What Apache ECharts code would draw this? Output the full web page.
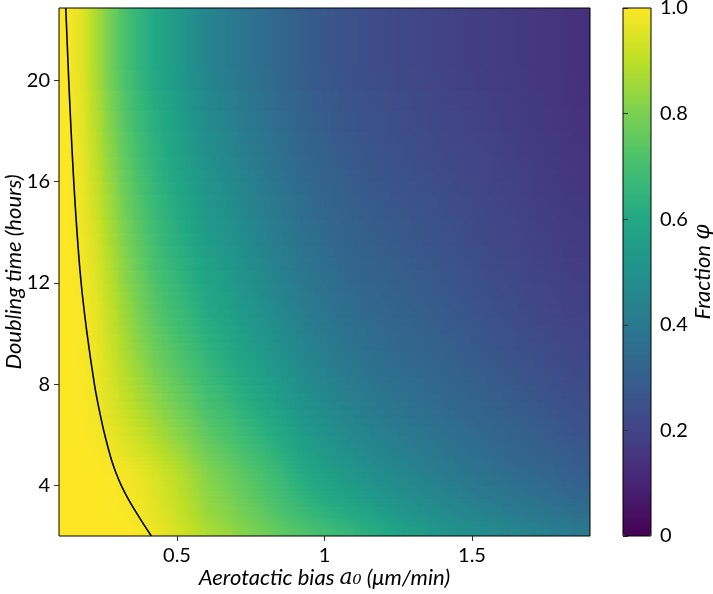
<!DOCTYPE html>
<html>
<head>
<meta charset="utf-8">
<script src="https://cdn.jsdelivr.net/npm/echarts@6/dist/echarts.min.js"></script>
<style>
  html, body { margin: 0; padding: 0; background: #fff; }
  #chart { width: 713px; height: 594px; }
</style>
</head>
<body>
<div id="chart"></div>
<script>
// cell edges of the fraction map (a0 in um/min, doubling time in hours)
const xEdges = [0.1, 0.15, 0.2, 0.25, 0.3, 0.35, 0.4, 0.45, 0.5, 0.55, 0.6, 0.7, 0.8, 0.9, 1.0, 1.1, 1.2, 1.3, 1.4, 1.5, 1.6, 1.7, 1.8, 1.9]
const yEdges = [2, 2.5, 3, 4, 5, 6, 8, 10, 12, 15, 18, 22.85]

// fraction phi, one row per doubling-time band (bottom to top)
const phi2 = [1, 1, 1, 1, 0.999, 0.992, 0.976, 0.951, 0.921, 0.89, 0.853, 0.802, 0.751, 0.708, 0.667, 0.627, 0.573, 0.534, 0.50, 0.475, 0.45, 0.429, 0.404]
const phi3 = [1, 1, 1, 0.998, 0.995, 0.985, 0.966, 0.94, 0.908, 0.874, 0.834, 0.781, 0.726, 0.674, 0.63, 0.589, 0.541, 0.504, 0.471, 0.446, 0.421, 0.399, 0.374]
const phi4 = [1, 1, 1, 0.997, 0.99, 0.976, 0.954, 0.926, 0.893, 0.856, 0.812, 0.755, 0.695, 0.633, 0.586, 0.543, 0.501, 0.467, 0.436, 0.41, 0.386, 0.362, 0.337]
const phi5 = [1, 1, 1, 0.995, 0.986, 0.966, 0.942, 0.912, 0.877, 0.837, 0.788, 0.728, 0.664, 0.59, 0.541, 0.496, 0.46, 0.43, 0.399, 0.374, 0.349, 0.325, 0.30]
const phi6 = [1, 0.998, 0.993, 0.978, 0.957, 0.93, 0.90, 0.868, 0.833, 0.794, 0.745, 0.684, 0.621, 0.55, 0.502, 0.46, 0.427, 0.399, 0.371, 0.346, 0.322, 0.298, 0.274]
const phi8 = [1, 0.996, 0.982, 0.953, 0.916, 0.879, 0.841, 0.806, 0.771, 0.733, 0.686, 0.623, 0.563, 0.499, 0.453, 0.415, 0.386, 0.361, 0.335, 0.31, 0.288, 0.265, 0.244]
const phi10 = [1, 0.993, 0.972, 0.928, 0.876, 0.828, 0.781, 0.744, 0.709, 0.673, 0.626, 0.563, 0.505, 0.448, 0.405, 0.37, 0.346, 0.323, 0.30, 0.275, 0.253, 0.232, 0.214]
const phi12 = [1, 0.991, 0.963, 0.908, 0.843, 0.786, 0.734, 0.695, 0.66, 0.624, 0.579, 0.514, 0.458, 0.406, 0.366, 0.334, 0.313, 0.292, 0.271, 0.246, 0.226, 0.206, 0.19]
const phi15 = [1, 0.982, 0.94, 0.874, 0.802, 0.742, 0.689, 0.649, 0.612, 0.575, 0.53, 0.468, 0.415, 0.366, 0.329, 0.301, 0.282, 0.263, 0.244, 0.222, 0.204, 0.186, 0.171]
const phi18 = [1, 0.969, 0.907, 0.831, 0.755, 0.695, 0.646, 0.606, 0.565, 0.525, 0.48, 0.423, 0.373, 0.326, 0.294, 0.269, 0.252, 0.235, 0.217, 0.20, 0.186, 0.171, 0.156]
const phiTop = [0.995, 0.954, 0.87, 0.783, 0.704, 0.644, 0.598, 0.558, 0.514, 0.47, 0.425, 0.374, 0.328, 0.282, 0.256, 0.235, 0.219, 0.204, 0.188, 0.177, 0.166, 0.155, 0.14]
const phiRows = [phi2, phi3, phi4, phi5, phi6, phi8, phi10, phi12, phi15, phi18, phiTop]

// black contour line
const contourA0 = [0.413, 0.385, 0.358, 0.333, 0.311, 0.293, 0.278, 0.255, 0.236, 0.22, 0.195, 0.175, 0.161, 0.15, 0.141, 0.133, 0.123]
const contourT = [2.0, 2.5, 3.0, 3.5, 4.0, 4.5, 5.0, 6.0, 7.0, 8.0, 10, 12, 14, 16, 18, 20, 22.85]

const viridis = ['#440154', '#482475', '#414487', '#355f8d', '#2a788e', '#21918c', '#22a884', '#44bf70', '#7ad151', '#bddf26', '#fde725']

const cells = []
phiRows.forEach((row, j) => {
  row.forEach((v, i) => {
    cells.push([xEdges[i], xEdges[i + 1], yEdges[j], yEdges[j + 1], v])
  })
})
const contour = contourA0.map((a, i) => [a, contourT[i]])
const nCols = xEdges.length - 1
const rowMid = phiRows.map((r, j) => (yEdges[j] + yEdges[j + 1]) / 2)
const STRIPS = 6

// colour of a value on the same viridis ramp as the visualMap
function rgbOf(hex) {
  return [1, 3, 5].map(k => parseInt(hex.slice(k, k + 2), 16))
}
const ramp = viridis.map(rgbOf)
function viridisAt(v) {
  const t = Math.max(0, Math.min(1, v)) * (ramp.length - 1)
  const k = Math.min(ramp.length - 2, Math.floor(t))
  const f = t - k
  const c = ramp[k].map((a, n) => Math.round(a + (ramp[k + 1][n] - a) * f))
  return 'rgb(' + c.join(',') + ')'
}
// shade across a cell towards its neighbours so the bands do not show
function shadeAt(j, i, y) {
  const v = phiRows[j][i]
  if (y < rowMid[j] && j > 0) {
    const t = (rowMid[j] - y) / (rowMid[j] - rowMid[j - 1])
    return v + (phiRows[j - 1][i] - v) * t
  }
  if (y > rowMid[j] && j < phiRows.length - 1) {
    const t = (y - rowMid[j]) / (rowMid[j + 1] - rowMid[j])
    return v + (phiRows[j + 1][i] - v) * t
  }
  return v
}

const font = 'Lato, "DejaVu Sans", sans-serif'
const tick = { show: true, inside: false, length: 5, lineStyle: { color: '#333', width: 1 } }

const chart = echarts.init(document.getElementById('chart'), null, { renderer: 'canvas' })
chart.setOption({
  animation: false,
  textStyle: { fontFamily: font },
  grid: [
    { left: 59, top: 8, width: 531, height: 528, outerBoundsMode: 'none', show: true, borderColor: '#000', borderWidth: 1, backgroundColor: 'transparent', z: 5 },
    { left: 623, top: 8, width: 28, height: 528, outerBoundsMode: 'none', show: false }
  ],
  xAxis: [
    {
      gridIndex: 0, type: 'value', min: 0.1, max: 1.9,
      splitLine: { show: false },
      axisLine: { show: false },
      axisTick: Object.assign({ customValues: [0.5, 1, 1.5] }, tick),
      axisLabel: {
        customValues: [0.5, 1, 1.5], color: '#000', fontSize: 20, margin: 10,
        formatter: v => String(v)
      },
      name: 'Aerotactic bias {m|a₀} (μm/min)',
      nameLocation: 'middle', nameGap: 31, nameMoveOverlap: false,
      nameTextStyle: {
        color: '#000', fontSize: 22, fontStyle: 'italic', fontFamily: font,
        rich: { m: { fontSize: 22, fontStyle: 'italic', fontFamily: '"DejaVu Serif", serif' } }
      }
    },
    { gridIndex: 1, type: 'value', min: 0, max: 1, show: false }
  ],
  yAxis: [
    {
      gridIndex: 0, type: 'value', min: 2, max: 22.85,
      splitLine: { show: false },
      axisLine: { show: false },
      axisTick: Object.assign({ customValues: [4, 8, 12, 16, 20] }, tick),
      axisLabel: {
        customValues: [4, 8, 12, 16, 20], color: '#000', fontSize: 20, margin: 9,
        formatter: v => String(v)
      },
      name: 'Doubling time (hours)',
      nameLocation: 'middle', nameGap: 34, nameMoveOverlap: false,
      nameTextStyle: { color: '#000', fontSize: 22, fontStyle: 'italic', fontFamily: font }
    },
    {
      gridIndex: 1, type: 'value', min: 0, max: 1, interval: 0.2, position: 'right', z: 10,
      splitLine: { show: false },
      axisLine: { show: false },
      axisTick: tick,
      axisLabel: {
        color: '#000', fontSize: 20, margin: 9,
        formatter: v => (v === 0 ? '0' : v.toFixed(1))
      },
      name: 'Fraction {m|φ}',
      nameLocation: 'middle', nameGap: 41, nameRotate: 90, nameMoveOverlap: false,
      nameTextStyle: {
        color: '#000', fontSize: 22, fontStyle: 'italic', fontFamily: font,
        rich: { m: { fontSize: 22, fontStyle: 'italic', fontFamily: '"DejaVu Serif", serif' } }
      }
    }
  ],
  visualMap: {
    type: 'continuous', min: 0, max: 1, seriesIndex: 0, dimension: 4,
    calculable: false, hoverLink: false, realtime: false,
    orient: 'vertical', left: 623, top: 8, padding: 0,
    itemWidth: 28, itemHeight: 528, text: null, showLabel: false,
    inRange: { color: viridis },
    z: 2
  },
  graphic: [{
    type: 'rect', z: 100,
    shape: { x: 623, y: 8, width: 28, height: 528 },
    style: { fill: 'none', stroke: '#000', lineWidth: 1 }
  }],
  series: [
    {
      type: 'custom', xAxisIndex: 0, yAxisIndex: 0,
      data: cells,
      encode: { x: [0, 1], y: [2, 3] },
      clip: true,
      renderItem: (params, api) => {
        const i = params.dataIndex % nCols
        const j = Math.floor(params.dataIndex / nCols)
        const x0 = api.value(0), x1 = api.value(1), y0 = api.value(2), y1 = api.value(3)
        const children = []
        for (let k = 0; k < STRIPS; k++) {
          const ya = y0 + (y1 - y0) * k / STRIPS
          const yb = y0 + (y1 - y0) * (k + 1) / STRIPS
          const ym = (ya + yb) / 2
          const pA = api.coord([x0, yb])
          const pB = api.coord([x1, ya])
          const left = Math.round(pA[0]), top = Math.round(pA[1])
          const vC = shadeAt(j, i, ym)
          const vL = i > 0 ? (shadeAt(j, i - 1, ym) + vC) / 2 : vC
          const vR = i < nCols - 1 ? (shadeAt(j, i + 1, ym) + vC) / 2 : vC
          children.push({
            type: 'rect',
            shape: { x: left, y: top, width: Math.round(pB[0]) - left + 1, height: Math.round(pB[1]) - top + 1 },
            style: {
              fill: new echarts.graphic.LinearGradient(0, 0, 1, 0, [
                { offset: 0, color: viridisAt(vL) },
                { offset: 0.5, color: viridisAt(vC) },
                { offset: 1, color: viridisAt(vR) }
              ])
            }
          })
        }
        return { type: 'group', children }
      }
    },
    {
      type: 'line', xAxisIndex: 0, yAxisIndex: 0,
      data: contour, smooth: 0.3, showSymbol: false, z: 6,
      lineStyle: { color: '#000', width: 1.6 }
    }
  ]
})
</script>
</body>
</html>
